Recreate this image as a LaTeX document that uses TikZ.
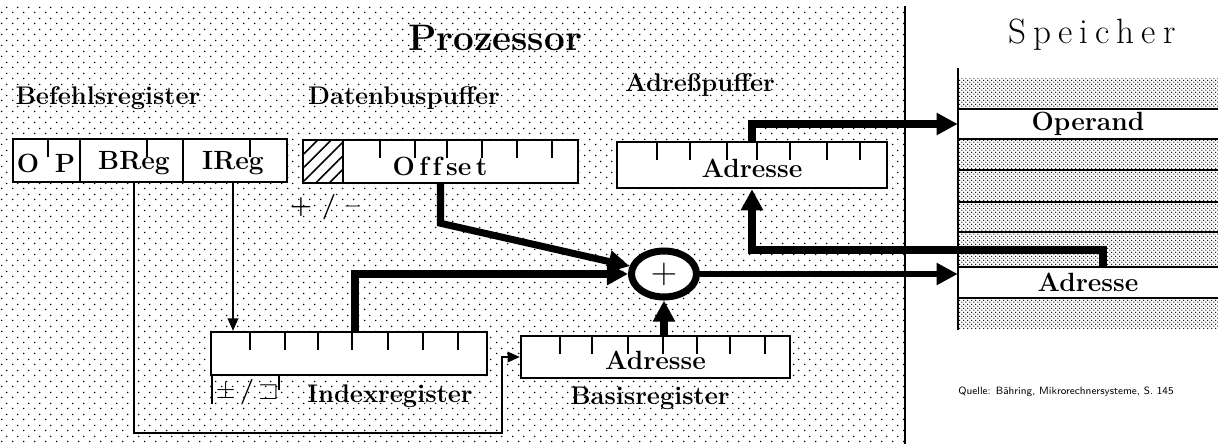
\documentclass[tikz,border=0pt]{standalone}
\usepackage{amsmath}
\usepackage{amssymb}
\usepackage{fontspec}
\usepackage{tikz}
\usetikzlibrary{shapes.geometric, arrows.meta, positioning, patterns, patterns.meta}

\newcommand{\lblfont}{\fontsize{14.5}{16}\selectfont\bfseries}
\newcommand{\regfont}{\fontsize{15}{17}\selectfont\bfseries}

% stipple for the processor and the memory
\tikzdeclarepattern{
	name=procdots,
	bounding box={(0pt,0pt) and (6pt,6pt)},
	tile size={(6pt,6pt)},
	code={
		\fill (1pt,1.5pt) circle (0.5pt);
		\fill (4pt,4.5pt) circle (0.5pt);
	}
}
\tikzdeclarepattern{
	name=memdots,
	bounding box={(0pt,0pt) and (2.4pt,2.4pt)},
	tile size={(2.4pt,2.4pt)},
	code={
		\fill (0.6pt,0.6pt) circle (0.45pt);
		\fill (1.8pt,1.8pt) circle (0.45pt);
	}
}

\tikzset{
	reg/.style={draw, line width=1.4pt, fill=white, minimum height=0.86cm, inner sep=0pt,
		font=\regfont, text height=14.5pt, text depth=0pt},
	lbl/.style={font=\lblfont, inner sep=0pt},
	regtick/.style={line width=1.4pt},
	bus/.style={line width=4pt, -{Triangle[length=12pt, width=12pt]}},
	sig/.style={line width=1pt, -{Triangle[length=7pt, width=6pt]}},
}

\begin{document}
\begin{tikzpicture}[x=0.02cm, y=-0.02cm]
	\useasboundingbox (0,0) rectangle (1218,444);

	% Prozessor
	\fill[pattern=procdots] (0,6) rectangle (905,444);
	\draw[line width=1pt] (905,6) -- (905,444);
	\node[font=\fontsize{21}{24}\selectfont\bfseries] (proz) at (495,38) {Prozessor};

	% Speicher
	\node[font=\fontsize{20}{24}\selectfont] (speicher) at (1092,35)
		{S\kern4pt p\kern4pt e\kern4pt i\kern4pt c\kern4pt h\kern4pt e\kern4pt r};
	\fill[pattern=memdots] (958,78) rectangle (1218,328);
	\node[fill=white, minimum width=5.2cm, minimum height=0.6cm, inner sep=0pt, font=\regfont] (operand) at (1088,124) {Operand};
	\node[fill=white, minimum width=5.2cm, minimum height=0.62cm, inner sep=0pt, font=\regfont] (madr) at (1088,282.5) {Adresse};
	\foreach \y in {109,139,170,202,232,267,298}
		\draw[line width=1.2pt] (958,\y) -- (1218,\y);
	\draw[line width=1.5pt] (958,68) -- (958,330);

	% Befehlsregister
	\node[lbl] (befehllbl) at (108,98) {Befehlsregister};
	\node[reg, minimum width=5.48cm] (befehl) at (150,160.5) {};
	\foreach \x in {80,183}
		\draw[regtick] (\x,139) -- (\x,182);
	\foreach \x in {48,147,250}
		\draw[regtick] (\x,139) -- ++(0,18);
	\node[lbl, font=\regfont] (opo) at (28,163) {O};
	\node[lbl, font=\regfont] (opp) at (65,163) {P};
	\node[lbl, font=\regfont] (breg) at (134,163) {BReg};
	\node[lbl, font=\regfont] (ireg) at (233,163) {IReg};

	% Datenbuspuffer
	\node[lbl] (datenlbl) at (404,98) {Datenbuspuffer};
	\node[reg, minimum width=5.5cm] (daten) at (440.5,161.5) {};
	\fill[pattern={Lines[angle=45, distance=5.5pt, line width=0.9pt]}] (303,140) rectangle (343,183);
	\draw[regtick] (343,140) -- (343,183);
	\foreach \x in {380,415,447,482,517,552}
		\draw[regtick] (\x,140) -- ++(0,18);
	\node[lbl, font=\regfont] (offset) at (440,166) {O\,f\,f\,se\,t};
	\node[lbl] (sign) at (325,207) {+ / --};

	% Adresspuffer
	\node[lbl] (adrlbl) at (700,85) {Adreßpuffer};
	\node[reg, minimum width=5.4cm, minimum height=0.92cm] (adrpuf) at (752,165) {Adresse};
	\foreach \x in {657,690,727,757,790,827,860}
		\draw[regtick] (\x,142) -- ++(0,18);

	% Indexregister
	\node[reg, minimum width=5.52cm] (index) at (349,353.5) {};
	\foreach \x in {250,285,318,352,388,423,458}
		\draw[regtick] (\x,332) -- ++(0,18);
	\node[lbl] (indexlbl) at (390,396) {Indexregister};
	\node[lbl] (pm) at (247,392) {$\pm$\,/\,$\sqsupset$};
	\draw[regtick] (212,376) -- (212,404);
	\draw[regtick] (279,375) -- (279,390);

	% Basisregister
	\node[reg, minimum width=5.38cm, minimum height=0.84cm] (basis) at (655.5,357) {Adresse};
	\foreach \x in {560,592,628,663,697,730,765}
		\draw[regtick] (\x,336) -- ++(0,18);
	\node[lbl] (basislbl) at (650,398) {Basisregister};

	% Addierer
	\node[draw, ellipse, line width=4pt, fill=white, minimum width=1.3cm, minimum height=0.92cm,
		inner sep=0pt, font=\fontsize{20}{20}\selectfont] (add) at (664,274) {$+$};

	% Busse
	\draw[bus] (daten.south) -- ++(0,39) -- (add);
	\draw[bus] ([xshift=0.12cm]index.north) |- (add);
	\draw[bus] (basis.north -| add) -- (add);
	\draw[bus, line width=3.5pt] (add) -- (add -| madr.west);
	\draw[bus] (adrpuf.north) |- (operand.west);
	\coordinate (fb) at (1103,250);
	\draw[bus] (fb |- madr.north) -- (fb) -| (adrpuf.south);

	% Steuerleitungen
	\coordinate (bturn) at (502,433);
	\draw[sig] (breg |- befehl.south) |- (bturn) |- (basis.west);
	\draw[sig] (ireg |- befehl.south) -- (ireg |- index.north);

	\node[anchor=west, inner sep=0pt, font=\fontsize{6}{7}\selectfont\sffamily] (quelle) at (958,392)
		{Quelle: Bähring, Mikrorechnersysteme, S. 145};
\end{tikzpicture}
\end{document}
